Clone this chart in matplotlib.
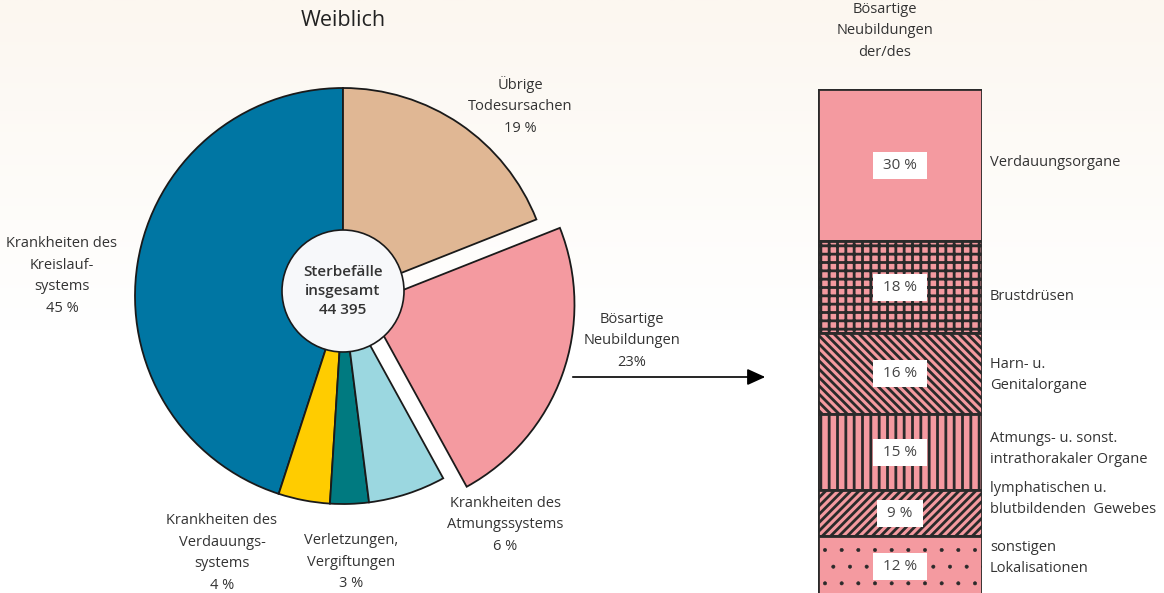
import numpy as np
import matplotlib.pyplot as plt

plt.rcParams['font.family'] = ['Open Sans', 'DejaVu Sans']
plt.rcParams['hatch.linewidth'] = 2.0

# pie: causes of death (women)
pie_labels = ['Krankheiten des\nKreislauf-\nsystems\n45 %',
              'Krankheiten des\nVerdauungs-\nsystems\n4 %',
              'Verletzungen,\nVergiftungen\n3 %',
              'Krankheiten des\nAtmungssystems\n6 %',
              'Bösartige\nNeubildungen\n23%',
              'Übrige\nTodesursachen\n19 %']
pie_values = [45, 4, 3, 6, 23, 19]
pie_colors = ['#0076a3', '#ffcc00', '#007a80', '#9bd7e0', '#f49aa0', '#e0b794']
pie_explode = [0, 0, 0, 0, 0.12, 0]

# stacked bar: malignant neoplasms by site
bar_labels = ['Verdauungsorgane', 'Brustdrüsen', 'Harn- u.\nGenitalorgane',
              'Atmungs- u. sonst.\nintrathorakaler Organe',
              'lymphatischen u.\nblutbildenden  Gewebes',
              'sonstigen\nLokalisationen']
bar_values = [30, 18, 16, 15, 9, 12]
bar_hatches = ['', '++', '\\\\\\\\', '||', '////', '.']

W, H = 1164, 593
fig = plt.figure(figsize=(W / 100, H / 100), dpi=100)

# background gradient
bg = fig.add_axes([0, 0, 1, 1], zorder=-10)
grad = np.linspace(0, 1, 256)[:, None]
top = np.array([252, 247, 240]) / 255
img = np.clip(top + (1 - top) * np.minimum(grad * 1.8, 1)[..., None], 0, 1)
bg.imshow(np.repeat(img, 2, axis=1), aspect='auto', extent=[0, 1, 0, 1])
bg.axis('off')

# pie in pixel coordinates (y up)
ax = fig.add_axes([0, 0, 1, 1])
ax.patch.set_alpha(0)
cx, cy, r = 343, H - 296, 208
ax.pie(pie_values, colors=pie_colors, explode=[e * r for e in pie_explode],
       startangle=90, counterclock=True, center=(cx, cy), radius=r, frame=True,
       wedgeprops=dict(edgecolor='#1a1a1a', linewidth=1.3))
ax.set_xlim(0, W)
ax.set_ylim(0, H)
ax.axis('off')
circ = plt.Circle((cx, cy + 5), 61, facecolor='#f7f8fa', edgecolor='#1a1a1a',
                  linewidth=1.2, zorder=5)
ax.add_patch(circ)
ax.text(cx, cy + 5, 'Sterbefälle\ninsgesamt\n44 395', ha='center', va='center',
        fontsize=11, fontweight='semibold', color='#333333', linespacing=1.5, zorder=6)

txt = dict(ha='center', va='center', fontsize=10.5, color='#333333', linespacing=1.6)
pie_label_pos = [(62, H - 276), (222, H - 553), (351, H - 562), (505, H - 525),
                 (632, H - 341), (520, H - 106)]
for lab, (x, y) in zip(pie_labels, pie_label_pos):
    ax.text(x, y, lab, **txt)
ax.text(343, H - 20, 'Weiblich', ha='center', va='center', fontsize=15.5, color='#222222')
ax.annotate('', xy=(768, H - 377), xytext=(570, H - 377),
            arrowprops=dict(arrowstyle='-|>,head_length=1.1,head_width=0.5',
                            color='black', lw=1.2))
ax.text(885, H - 31, 'Bösartige\nNeubildungen\nder/des', **txt)

# stacked bar
bx = fig.add_axes([818 / W, (H - 597) / H, 164 / W, 508 / H])
bottoms = np.concatenate([[0], np.cumsum(bar_values)[:-1]])
label_y = [162, 297, 375, 449, 499, 558]
for v, b, h, lab, ly in zip(bar_values, bottoms, bar_hatches, bar_labels, label_y):
    plt.rcParams['hatch.linewidth'] = 0.4 if h == '.' else 2.0
    bars = bx.bar(0, v, bottom=b, width=1, color='#f49aa0', edgecolor='#2a2a2a',
                  hatch=h, linewidth=2)
    bx.text(0, b + v / 2, f' {v} % ', ha='center', va='center', fontsize=11,
            color='#444444',
            bbox=dict(boxstyle='square,pad=0.4', facecolor='white', edgecolor='none'))
    ax.text(990, H - ly, lab, ha='left', va='center', fontsize=10.5,
            color='#333333', linespacing=1.6)
bx.set_xlim(-0.5, 0.5)
bx.set_ylim(100, 0)
bx.axis('off')

fig.savefig('out.png', dpi=100)
